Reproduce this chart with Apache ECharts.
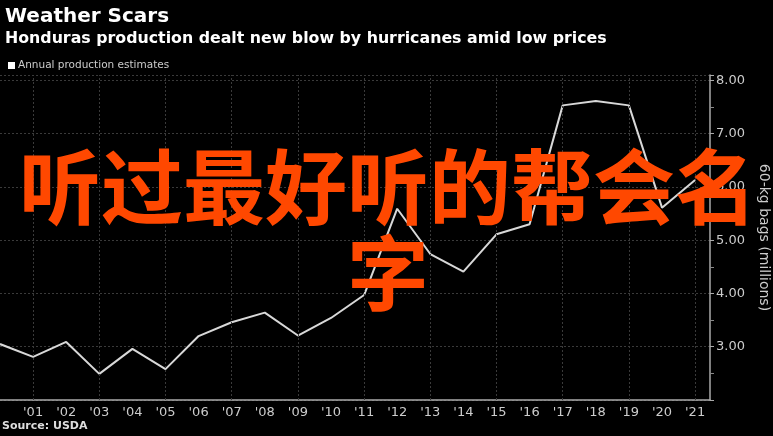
<!DOCTYPE html>
<html><head><meta charset="utf-8">
<script src="https://cdn.jsdelivr.net/npm/echarts@6/dist/echarts.min.js"></script>
<style>html,body{margin:0;padding:0;background:#000}#c{width:773px;height:436px}</style>
</head><body><div id="c"></div>
<script>
const years = [2000,2001,2002,2003,2004,2005,2006,2007,2008,2009,2010,2011,2012,2013,2014,2015,2016,2017,2018,2019,2020,2021];
const production = [3.05,2.81,3.09,2.49,2.96,2.58,3.20,3.46,3.64,3.21,3.54,3.97,5.59,4.74,4.41,5.11,5.30,7.53,7.61,7.53,5.61,6.13];
const gridYears = [2001,2003,2005,2007,2009,2011,2013,2015,2017,2019,2021];
const titleText = 'Weather Scars';
const subtitleText = 'Honduras production dealt new blow by hurricanes amid low prices';
const legendText = 'Annual production estimates';
const sourceText = 'Source: USDA';
const yAxisName = '60-kg bags (millions)';
const overlayText = '听过最好听的帮会名字';

const font = 'DejaVu Sans';
const chart = echarts.init(document.getElementById('c'));
const seriesData = years.map((y,i)=>{
  const d = {value:[y, production[i]]};
  if (i === years.length-1) {
    d.label = {show:true, position:'right', distance:18, formatter:p=>p.value[1].toFixed(2),
      backgroundColor:'#fff', color:'#000', fontFamily:font, fontSize:12, padding:[1,4,0,3]};
  }
  return d;
});
chart.setOption({
  backgroundColor:'#000',
  animation:false,
  title:[
    {text:titleText, left:0, top:2, textStyle:{color:'#fff', fontFamily:font, fontWeight:'bold', fontSize:20}},
    {text:subtitleText, left:0, top:26, textStyle:{color:'#fff', fontFamily:font, fontWeight:'bold', fontSize:15.8}}
  ],
  legend:{left:3, top:55, icon:'rect', itemWidth:7, itemHeight:7, itemGap:4,
    textStyle:{color:'#ccc', fontFamily:font, fontSize:10.5, padding:[0,0,0,-2]},
    data:[{name:legendText, itemStyle:{color:'#fff'}}]},
  grid:{left:0, right:63, top:75, bottom:36, containLabel:false, outerBoundsMode:'none'},
  xAxis:{type:'value', min:2000, max:2021.45, interval:1,
    axisLine:{show:true, onZero:false, lineStyle:{color:'#aaa', width:1.5}},
    axisTick:{show:false},
    splitLine:{show:false},
    axisLabel:{color:'#ccc', fontFamily:font, fontSize:13, margin:6, showMinLabel:false,
      formatter:v=> (Number.isInteger(v) && v>2000) ? "'" + String(v).slice(2) : ''}},
  yAxis:{type:'value', position:'right', min:2, max:8.1, interval:1,
    name:yAxisName, nameLocation:'middle', nameGap:47, nameRotate:-90,
    nameTextStyle:{color:'#ccc', fontFamily:font, fontSize:14},
    axisLine:{show:true, lineStyle:{color:'#aaa', width:1.5}},
    axisTick:{show:true, length:4, lineStyle:{color:'#aaa'}},
    minorTick:{show:true, splitNumber:2, length:4, lineStyle:{color:'#888'}},
    splitLine:{show:true, lineStyle:{color:'#3a3a3a', type:[2,2]}},
    axisLabel:{color:'#ccc', fontFamily:font, fontSize:13, margin:6, showMinLabel:false,
      formatter:v=> v>2 ? v.toFixed(2) : ''}},
  series:[
    {type:'line', name:'grid', data:[], z:1, silent:true,
      markLine:{silent:true, symbol:'none', label:{show:false},
        lineStyle:{color:'#3a3a3a', type:[2,2], width:1},
        data:gridYears.map(y=>({xAxis:y}))}},
    {type:'line', name:legendText, data:seriesData, z:3, symbol:'none',
      lineStyle:{color:'#d8d8d8', width:2}, itemStyle:{color:'#fff'}}
  ],
  graphic:[
    {type:'text', left:2, top:421, style:{text:sourceText, fill:'#ddd', font:'bold 11px "DejaVu Sans"'}},
    {type:'text', x:388, y:144, z:100, style:{text:overlayText, fill:'#ff4800',
      font:'bold 82px "Noto Sans CJK SC"', width:760, overflow:'break', align:'center', lineHeight:86}}
  ]
});
</script></body></html>
